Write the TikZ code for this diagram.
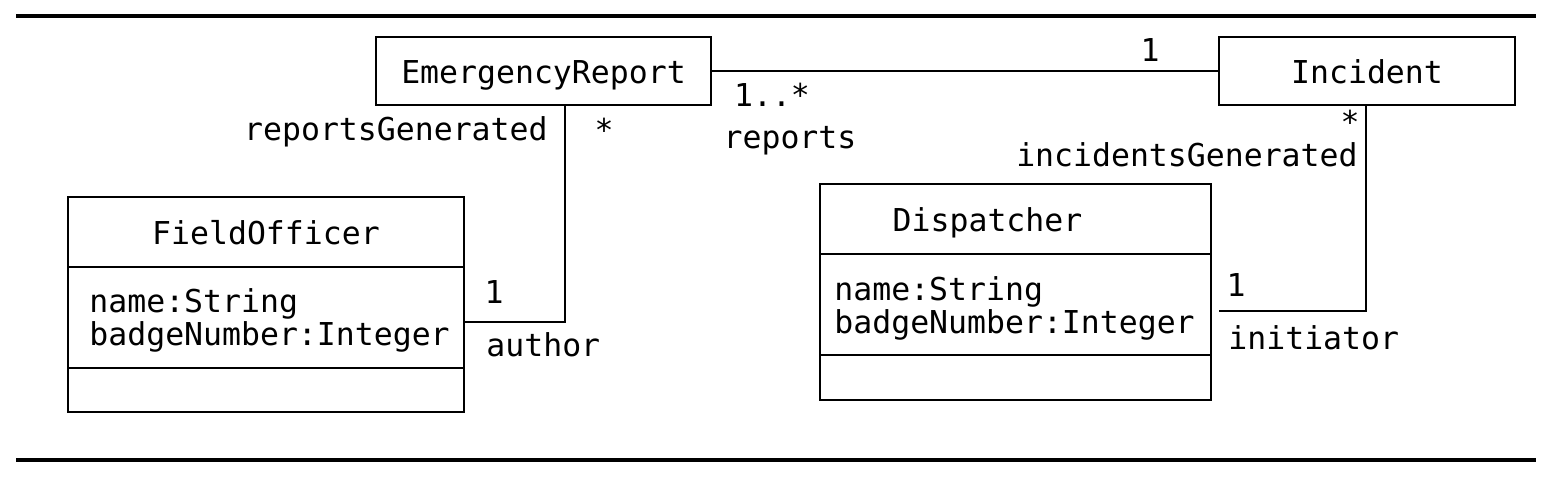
\documentclass[tikz,border=0pt]{standalone}
\usepackage{fontspec}
\setmainfont{DejaVu Sans Mono}
\usetikzlibrary{positioning}
\tikzset{
  umlfont/.style={font=\fontsize{15.75pt}{16.5pt}\selectfont},
  classbox/.style={draw, line width=0.9pt, inner sep=0pt, outer sep=0pt,
    text height=12pt, text depth=0pt, umlfont},
  part/.style={classbox},
  attrtext/.style={align=left, inner sep=0pt, umlfont},
  role/.style={inner sep=0pt, umlfont},
  assoc/.style={line width=0.9pt},
  rule/.style={line width=1.8pt}
}
\begin{document}
\begin{tikzpicture}[x=0.5pt,y=-0.5pt]
  \useasboundingbox (0,0) rectangle (1558,482);
  \coordinate (top-l) at (16,16);
  \coordinate (top-r) at (1536,16);
  \coordinate (bot-l) at (16,460);
  \coordinate (bot-r) at (1536,460);
  \draw[rule] (top-l) -- (top-r);
  \draw[rule] (bot-l) -- (bot-r);

  % classes without compartments
  \node[classbox, minimum width=167.5pt, minimum height=34pt] (report) at (543.5,71) {EmergencyReport};
  \node[classbox, minimum width=148pt, minimum height=34pt] (incident) at (1367,71) {Incident};

  % FieldOfficer
  \node[part, minimum width=198pt, minimum height=35pt, anchor=north west] (officer) at (68,197) {FieldOfficer};
  \node[part, minimum width=198pt, minimum height=50.5pt, below=0pt of officer] (officer-attr) {};
  \node[part, minimum width=198pt, minimum height=22pt, below=0pt of officer-attr] (officer-ops) {};
  \node[attrtext, anchor=west] (officer-text) at ([xshift=10.5pt,yshift=-1.5pt]officer-attr.west)
    {name:String\\badgeNumber:Integer};

  % Dispatcher
  \node[part, minimum width=195.5pt, minimum height=35pt, anchor=north west] (dispatcher) at (820,184) {Dispatcher\hspace*{28pt}};
  \node[part, minimum width=195.5pt, minimum height=50.5pt, below=0pt of dispatcher] (dispatcher-attr) {};
  \node[part, minimum width=195.5pt, minimum height=22.5pt, below=0pt of dispatcher-attr] (dispatcher-ops) {};
  \node[attrtext, anchor=west] (dispatcher-text) at ([xshift=7pt,yshift=-2pt]dispatcher-attr.west)
    {name:String\\badgeNumber:Integer};

  % associations
  \draw[assoc] (report.east) -- (incident.west);
  \draw[assoc] ([xshift=10.75pt]report.south) |- ([yshift=-2.25pt]officer-attr.east);
  \draw[assoc] ([xshift=-0.5pt]incident.south) |- ([xshift=4pt,yshift=-3.25pt]dispatcher-attr.east);

  % multiplicities and roles
  \node[role] (m-inc) at (1150,50) {1};
  \node[role] (m-rep) at (772,95) {1..*};
  \node[role] (r-rep) at (790,141) {reports};
  \node[role, anchor=east] (r-gen) at (548,132) {reportsGenerated};
  \node[role] (m-gen) at (604,130) {*};
  \node[role] (m-auth) at (494,292) {1};
  \node[role, anchor=west] (r-auth) at (486,345) {author};
  \node[role] (m-incgen) at (1350,122) {*};
  \node[role, anchor=east] (r-incgen) at (1358,155) {incidentsGenerated};
  \node[role] (m-init) at (1236,285) {1};
  \node[role, anchor=west] (r-init) at (1228,338) {initiator};
\end{tikzpicture}
\end{document}
